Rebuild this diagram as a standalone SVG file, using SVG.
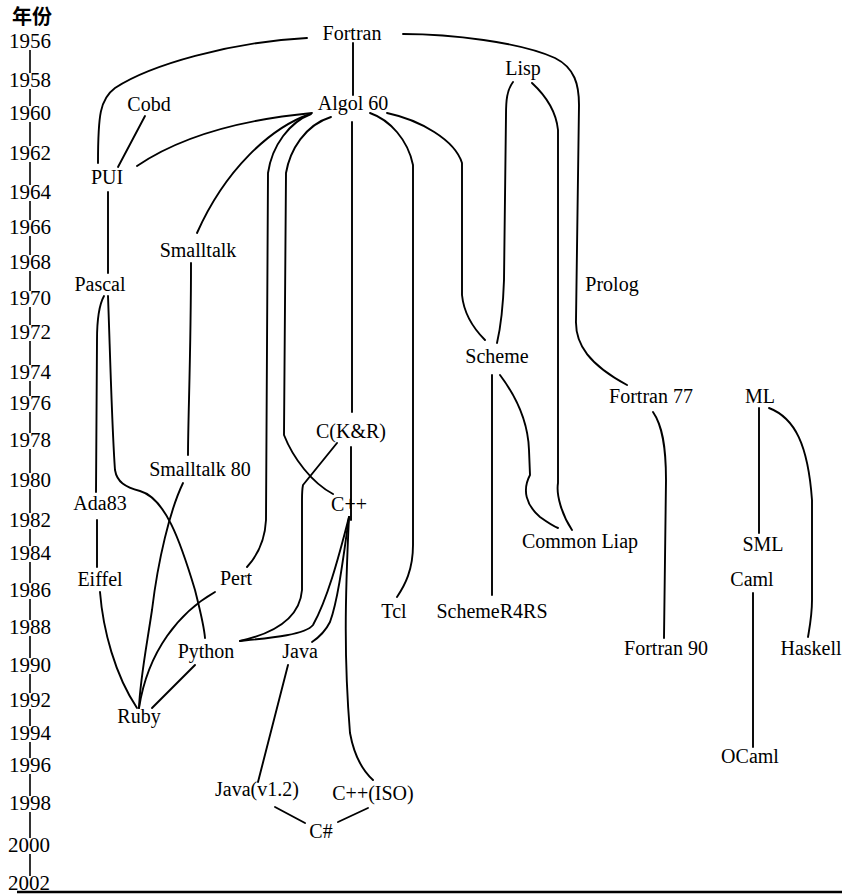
<svg xmlns="http://www.w3.org/2000/svg" width="842" height="895" viewBox="0 0 842 895">
  <style>
    .bg { fill: #ffffff; }
    .yr { font-family: "Liberation Serif", "Times New Roman", serif; font-size: 21px; fill: #000; text-anchor: middle; }
    .hd { font-family: "Noto Sans CJK SC", "Noto Sans CJK JP", sans-serif; font-size: 20px; font-weight: bold; fill: #000; text-anchor: middle; }
    .lbl { font-family: "Liberation Serif", "Times New Roman", serif; font-size: 20px; fill: #000; text-anchor: middle; }
    .axis { stroke: #000; stroke-width: 1.6; fill: none; }
    .edge { stroke: #000; stroke-width: 1.9; fill: none; stroke-linecap: round; stroke-linejoin: round; }
  </style>
  <rect class="bg" x="0" y="0" width="842" height="895"/>

  <!-- year axis -->
  <g id="axis">
    <text class="hd" x="32" y="24">年份</text>
    <g class="yr">
      <text x="30" y="48">1956</text>
      <text x="30" y="87">1958</text>
      <text x="30" y="120">1960</text>
      <text x="30" y="160">1962</text>
      <text x="30" y="199">1964</text>
      <text x="30" y="234">1966</text>
      <text x="30" y="269">1968</text>
      <text x="30" y="305">1970</text>
      <text x="30" y="339">1972</text>
      <text x="30" y="379">1974</text>
      <text x="30" y="410">1976</text>
      <text x="30" y="447">1978</text>
      <text x="30" y="487">1980</text>
      <text x="30" y="527">1982</text>
      <text x="30" y="560">1984</text>
      <text x="30" y="597">1986</text>
      <text x="30" y="634">1988</text>
      <text x="30" y="672">1990</text>
      <text x="30" y="707">1992</text>
      <text x="30" y="740">1994</text>
      <text x="30" y="772">1996</text>
      <text x="30" y="810">1998</text>
      <text x="29" y="852">2000</text>
      <text x="29" y="890">2002</text>
    </g>
    <path class="axis" d="M30,50 V73 M30,89 V106 M30,122 V146 M30,162 V185 M30,201 V220 M30,236 V255 M30,271 V291 M30,307 V325 M30,341 V365 M30,381 V396 M30,412 V433 M30,449 V473 M30,489 V513 M30,529 V546 M30,562 V583 M30,599 V620 M30,636 V658 M30,674 V693 M30,709 V726 M30,742 V758 M30,774 V796 M30,812 V838 M30,854 V876"/>
    <line x1="17" y1="892" x2="842" y2="892" stroke="#000" stroke-width="2.5"/>
  </g>

  <!-- lineage connectors -->
  <g id="connectors" class="edge">
    <!-- Fortran -->
    <path d="M307,38 C230,42 150,65 115,88 C100,99 98,115 98,163"/>
    <path d="M403,34 C450,34 520,42 555,58 C575,68 579,85 579,105 L576,320 C575,345 590,365 627,385"/>
    <path d="M353,43 V95"/>
    <!-- Algol 60 -->
    <path d="M352,122 V412"/>
    <path d="M312,113 C260,118 190,130 137,166"/>
    <path d="M310,114 C270,128 225,170 197,233"/>
    <path d="M311,114 C290,122 272,145 268,173 L266,520 C265,540 258,555 247,567"/>
    <path d="M331,117 C305,125 290,150 286,173 L284,435 C293,458 312,483 333,494"/>
    <path d="M370,113 C390,120 408,140 413,165 L413,545 C413,570 405,585 397,597"/>
    <path d="M387,113 C420,120 455,140 462,163 L462,295 C464,315 475,330 485,340"/>
    <!-- Cobd / PUI / Pascal family -->
    <path d="M145,116 L118,167"/>
    <path d="M108,192 V273"/>
    <path d="M104,296 C99,305 97,320 97,340 L96,492"/>
    <path d="M97,520 V567"/>
    <path d="M100,592 C103,630 115,675 137,708"/>
    <path d="M108,296 C110,350 112,430 115,470 C117,482 125,487 140,491 C165,498 180,540 195,590 C200,610 204,625 205,638"/>
    <!-- Smalltalk -->
    <path d="M191,263 C191,350 188,420 188,455"/>
    <path d="M183,483 C170,510 158,560 152,610 C146,650 140,680 139,708"/>
    <!-- Pert / Python to Ruby -->
    <path d="M215,592 C180,612 148,650 139,708"/>
    <path d="M195,665 L152,708"/>
    <!-- C family -->
    <path d="M351,447 V520"/>
    <path d="M337,443 L303,485 C302,490 302,495 302,500 L302,590 C300,615 280,632 240,641"/>
    <path d="M349,517 C338,560 327,600 313,625 C305,635 270,638 240,641"/>
    <path d="M349,517 C343,560 338,600 330,622 C325,632 318,638 312,642"/>
    <path d="M349,517 C345,600 344,660 350,733 C354,755 362,770 373,780"/>
    <path d="M288,665 L258,782"/>
    <path d="M275,807 L305,823"/>
    <path d="M368,808 L338,822"/>
    <!-- Lisp / Scheme -->
    <path d="M513,82 C507,90 506,100 506,115 L504,280 C503,310 500,330 497,343"/>
    <path d="M532,83 C545,95 556,110 558,130 L558,483 C556,495 562,515 572,530"/>
    <path d="M492,375 V595"/>
    <path d="M500,375 C515,395 528,420 529,450 L530,475 C522,490 526,505 540,517 C547,522 553,526 558,528"/>
    <!-- Fortran 77 -->
    <path d="M653,412 C662,425 666,445 666,480 L664,638"/>
    <!-- ML family -->
    <path d="M759,408 V533"/>
    <path d="M769,408 C795,418 808,445 812,500 L812,600 C812,615 810,625 808,637"/>
    <path d="M753,593 V747"/>
  </g>

  <!-- languages -->
  <g id="n-fortran"><text class="lbl" x="352" y="40">Fortran</text></g>
  <g id="n-cobd"><text class="lbl" x="149" y="111">Cobd</text></g>
  <g id="n-algol60"><text class="lbl" x="353" y="110">Algol 60</text></g>
  <g id="n-lisp"><text class="lbl" x="523" y="75">Lisp</text></g>
  <g id="n-pui"><text class="lbl" x="107" y="184">PUI</text></g>
  <g id="n-smalltalk"><text class="lbl" x="198" y="257">Smalltalk</text></g>
  <g id="n-pascal"><text class="lbl" x="100" y="291">Pascal</text></g>
  <g id="n-prolog"><text class="lbl" x="612" y="291">Prolog</text></g>
  <g id="n-scheme"><text class="lbl" x="497" y="363">Scheme</text></g>
  <g id="n-fortran77"><text class="lbl" x="651" y="403">Fortran 77</text></g>
  <g id="n-ml"><text class="lbl" x="760" y="403">ML</text></g>
  <g id="n-ckr"><text class="lbl" x="351" y="438">C(K&amp;R)</text></g>
  <g id="n-smalltalk80"><text class="lbl" x="200" y="476">Smalltalk 80</text></g>
  <g id="n-ada83"><text class="lbl" x="100" y="510">Ada83</text></g>
  <g id="n-cpp"><text class="lbl" x="349" y="511">C++</text></g>
  <g id="n-commonlisp"><text class="lbl" x="580" y="548">Common Liap</text></g>
  <g id="n-sml"><text class="lbl" x="763" y="551">SML</text></g>
  <g id="n-eiffel"><text class="lbl" x="100" y="586">Eiffel</text></g>
  <g id="n-pert"><text class="lbl" x="236" y="585">Pert</text></g>
  <g id="n-caml"><text class="lbl" x="752" y="586">Caml</text></g>
  <g id="n-tcl"><text class="lbl" x="394" y="618">Tcl</text></g>
  <g id="n-schemer4rs"><text class="lbl" x="492" y="618">SchemeR4RS</text></g>
  <g id="n-python"><text class="lbl" x="206" y="658">Python</text></g>
  <g id="n-java"><text class="lbl" x="300" y="658">Java</text></g>
  <g id="n-fortran90"><text class="lbl" x="666" y="655">Fortran 90</text></g>
  <g id="n-haskell"><text class="lbl" x="811" y="655">Haskell</text></g>
  <g id="n-ruby"><text class="lbl" x="139" y="723">Ruby</text></g>
  <g id="n-ocaml"><text class="lbl" x="750" y="763">OCaml</text></g>
  <g id="n-java12"><text class="lbl" x="257" y="796">Java(v1.2)</text></g>
  <g id="n-cppiso"><text class="lbl" x="373" y="800">C++(ISO)</text></g>
  <g id="n-csharp"><text class="lbl" x="321" y="838">C#</text></g>
</svg>
